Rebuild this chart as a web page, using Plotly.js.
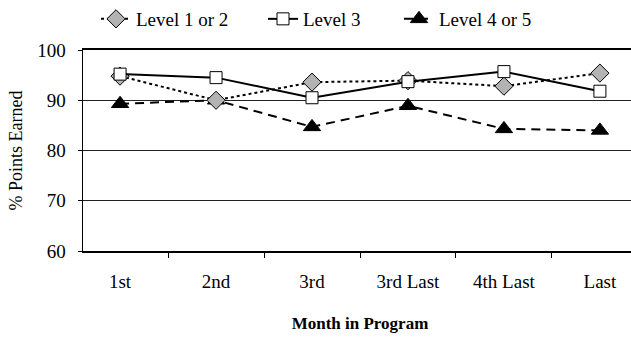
<!DOCTYPE html>
<html>
<head>
<meta charset="utf-8">
<script src="https://cdn.plot.ly/plotly-3.0.1.min.js"></script>
<style>
html, body { margin: 0; padding: 0; overflow: hidden; background: #fff; }
#chart { width: 638px; height: 337px; }
</style>
</head>
<body>
<div id="chart"></div>
<script>
var months = ["1st", "2nd", "3rd", "3rd Last", "4th Last", "Last"];
var level12 = [94.8, 90.0, 93.6, 93.9, 92.8, 95.4];
var level3 = [95.2, 94.5, 90.5, 93.7, 95.7, 91.8];
var level45 = [89.3, 90.0, 84.7, 88.9, 84.3, 84.0];

var serif = "Liberation Serif";
var plotLeft = 83, plotWidth = 554;
function px(x) { return (x - plotLeft) / plotWidth; }

var traces = [
  {
    x: months, y: level45, name: "Level 4 or 5", type: "scatter", mode: "lines+markers",
    legend: "legend3",
    line: { color: "#000", width: 2, dash: "9px,6px" },
    marker: { symbol: "triangle-up", size: 15, color: "#000", line: { color: "#000", width: 1 } }
  },
  {
    x: months, y: level12, name: "Level 1 or 2", type: "scatter", mode: "lines+markers",
    legend: "legend",
    line: { color: "#000", width: 2, dash: "3px,3px" },
    marker: { symbol: "diamond", size: 14, color: "#b3b3b3", line: { color: "#000", width: 1 } }
  },
  {
    x: months, y: level3, name: "Level 3", type: "scatter", mode: "lines+markers",
    legend: "legend2",
    line: { color: "#000", width: 2 },
    marker: { symbol: "square", size: 12, color: "#fff", line: { color: "#000", width: 1 } }
  }
];

function leg(xpx) {
  return {
    orientation: "h", x: px(xpx), xanchor: "left", y: 1.245, yanchor: "top",
    font: { family: serif, size: 19, color: "#000" },
    bgcolor: "rgba(0,0,0,0)"
  };
}

var layout = {
  width: 638, height: 337,
  margin: { l: 83, r: 1, t: 49, b: 86 },
  paper_bgcolor: "#fff", plot_bgcolor: "#fff",
  font: { family: serif, size: 18, color: "#000" },
  showlegend: true,
  legend: leg(96),
  legend2: leg(263),
  legend3: leg(399),
  xaxis: {
    type: "category",
    showline: true, linecolor: "#000", linewidth: 2, mirror: true,
    showgrid: false, zeroline: false,
    ticks: "outside", tickson: "boundaries", ticklen: 5, tickcolor: "#000", tickwidth: 1,
    ticklabelstandoff: 12,
    tickfont: { family: serif, size: 19, color: "#000" },
    title: { text: "<b>Month in Program</b>", font: { family: serif, size: 17, color: "#000" }, standoff: 26 }
  },
  yaxis: {
    range: [60, 100], tickvals: [60, 70, 80, 90, 100],
    showline: true, linecolor: "#000", linewidth: 1.5,
    showgrid: true, gridcolor: "#222", gridwidth: 1, zeroline: false,
    ticks: "outside", ticklen: 4, tickcolor: "#000", tickwidth: 1,
    ticklabelstandoff: 8,
    tickfont: { family: serif, size: 19, color: "#000" },
    title: { text: "% Points Earned", font: { family: serif, size: 18, color: "#000" }, standoff: 10 }
  }
};

Plotly.newPlot("chart", traces, layout, { staticPlot: true, displayModeBar: false });
</script>
</body>
</html>
